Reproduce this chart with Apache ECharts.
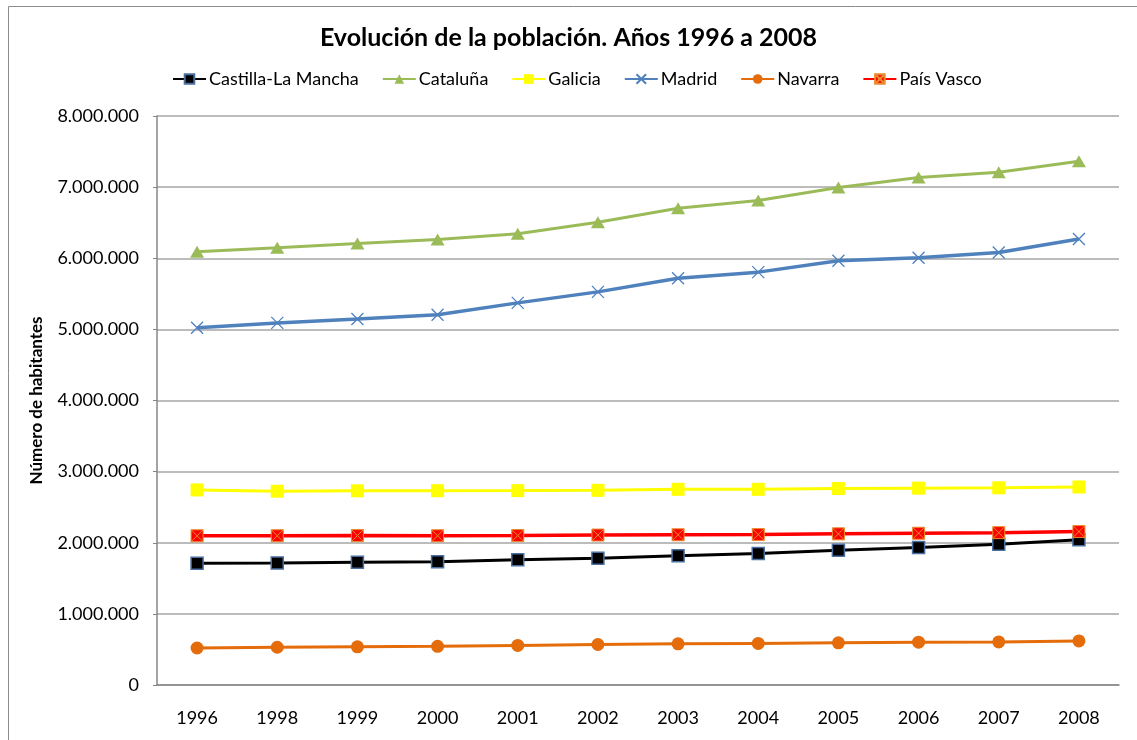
<!DOCTYPE html>
<html>
<head>
<meta charset="utf-8">
<script src="https://cdn.jsdelivr.net/npm/echarts@6/dist/echarts.min.js"></script>
<style>
  html, body { margin: 0; padding: 0; background: #fff; }
  #chart { width: 1137px; height: 740px; }
</style>
</head>
<body>
<div id="chart"></div>
<script>
// años (eje X)
var years = ['1996', '1998', '1999', '2000', '2001', '2002', '2003', '2004', '2005', '2006', '2007', '2008'];

// población por comunidad
var castillaLaMancha = [1712529, 1716152, 1726199, 1734261, 1760516, 1782038, 1815781, 1848881, 1894667, 1932261, 1977304, 2043100];
var cataluna = [6090040, 6147610, 6207533, 6261999, 6343110, 6506440, 6704146, 6813319, 6995206, 7134697, 7210508, 7364078];
var galicia = [2742622, 2724544, 2730337, 2731900, 2732926, 2737370, 2751094, 2750985, 2762198, 2767524, 2772533, 2784169];
var madrid = [5022289, 5091336, 5145325, 5205408, 5372433, 5527152, 5718942, 5804829, 5964143, 6008183, 6081689, 6271638];
var navarra = [520574, 530819, 536192, 543757, 555829, 569628, 578210, 584734, 593472, 601874, 605876, 620377];
var paisVasco = [2098055, 2098628, 2100441, 2098596, 2101478, 2108281, 2112204, 2115279, 2124846, 2133684, 2141860, 2157112];

// ticks eje Y
var yTicks = [0, 1000000, 2000000, 3000000, 4000000, 5000000, 6000000, 7000000, 8000000];

var font = 'Lato, "Liberation Sans", sans-serif';

function miles(v) {
  return String(v).replace(/(\d)(?=(\d{3})+$)/g, '$1.');
}

var chart = echarts.init(document.getElementById('chart'));

var option = {
  backgroundColor: '#fff',
  animation: false,
  textStyle: { fontFamily: font },
  graphic: [{
    type: 'rect',
    shape: { x: 8.5, y: 6.5, width: 1140, height: 740 },
    style: { fill: 'none', stroke: '#8c8c8c', lineWidth: 1 },
    silent: true
  }],
  title: {
    text: 'Evolución de la población. Años 1996 a 2008',
    left: 'center',
    top: 20,
    textStyle: { fontFamily: font, fontSize: 25, fontWeight: 'bold', color: '#000' }
  },
  legend: {
    top: 70,
    left: 172,
    padding: 0,
    itemWidth: 33,
    itemHeight: 12,
    itemGap: 23,
    textStyle: { fontFamily: font, fontSize: 18, color: '#000', padding: [0, 0, 0, -2] },
    data: ['Castilla-La Mancha', 'Cataluña', 'Galicia', 'Madrid', 'Navarra', 'País Vasco']
  },
  grid: { left: 157, right: 18, top: 116, bottom: 55, containLabel: false },
  xAxis: {
    type: 'category',
    data: years,
    boundaryGap: true,
    axisLine: { lineStyle: { color: '#868686', width: 1.5 } },
    axisTick: { show: false },
    axisLabel: { fontFamily: font, fontSize: 18, color: '#000', margin: 24 }
  },
  yAxis: {
    type: 'value',
    min: yTicks[0],
    max: yTicks[yTicks.length - 1],
    interval: yTicks[1] - yTicks[0],
    name: 'Número de habitantes',
    nameLocation: 'middle',
    nameGap: 112,
    nameTextStyle: { fontFamily: font, fontSize: 17, fontWeight: 'bold', color: '#000' },
    axisLine: { show: true, lineStyle: { color: '#868686', width: 1.5 } },
    axisTick: { show: true, length: 4, lineStyle: { color: '#868686' } },
    splitLine: { lineStyle: { color: '#a6a6a6', width: 1.5 } },
    axisLabel: { fontFamily: font, fontSize: 18, color: '#000', margin: 18, formatter: miles }
  },
  series: [
    {
      name: 'Castilla-La Mancha', type: 'line', data: castillaLaMancha,
      symbol: 'rect', symbolSize: 12,
      lineStyle: { color: '#000', width: 3 },
      itemStyle: { color: '#000', borderColor: '#4a6fa0', borderWidth: 1.5 }
    },
    {
      name: 'Cataluña', type: 'line', data: cataluna,
      symbol: 'triangle', symbolSize: [14, 12],
      lineStyle: { color: '#9bbb59', width: 3 },
      itemStyle: { color: '#9bbb59' }
    },
    {
      name: 'Galicia', type: 'line', data: galicia,
      symbol: 'rect', symbolSize: 13,
      lineStyle: { color: '#ffff00', width: 3 },
      itemStyle: { color: '#ffff00' }
    },
    {
      name: 'Madrid', type: 'line', data: madrid,
      symbol: 'path://M0 0L10 10M10 0L0 10', symbolSize: 12, symbolKeepAspect: true,
      lineStyle: { color: '#4f81bd', width: 3.5 },
      itemStyle: { color: '#4f81bd', borderColor: '#4f81bd', borderWidth: 1.3 }
    },
    {
      name: 'Navarra', type: 'line', data: navarra,
      symbol: 'circle', symbolSize: 13,
      lineStyle: { color: '#e46c0a', width: 3 },
      itemStyle: { color: '#e46c0a' }
    },
    {
      name: 'País Vasco', type: 'line', data: paisVasco,
      symbol: 'path://M0 0H10V10H0Z M0 0L10 10M10 0L0 10', symbolSize: 12, symbolKeepAspect: true,
      lineStyle: { color: '#ff0000', width: 3.5 },
      itemStyle: { color: '#ff0000', borderColor: '#e98c2e', borderWidth: 1 }
    }
  ]
};

chart.setOption(option);
</script>
</body>
</html>
